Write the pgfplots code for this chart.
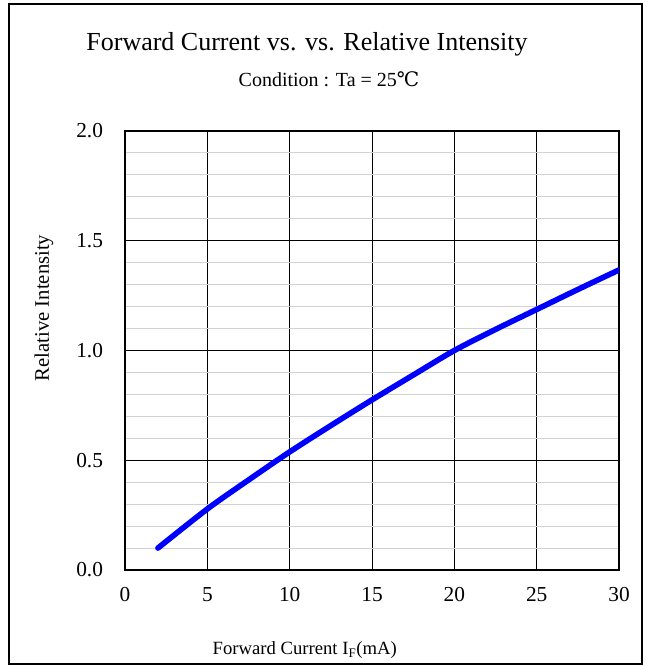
\documentclass[border=0pt]{standalone}
\usepackage{pgfplots}
\pgfplotsset{compat=1.18}
\usepackage{fontspec}
\setmainfont{Liberation Serif}
\newfontfamily\dvserif{DejaVu Serif}

\begin{document}
\begin{tikzpicture}[x=1pt,y=1pt]
\useasboundingbox (-93.75,-72) rectangle (393,427.5);
\begin{axis}[
    at={(0,0)}, anchor=south west,
    scale only axis,
    width=370.5pt, height=329.25pt,
    xmin=0, xmax=30, ymin=0, ymax=2,
    xtick={0,5,...,30},
    ytick={0,0.5,...,2},
    minor y tick num=4,
    grid=both,
    major grid style={black, line width=0.6pt},
    minor grid style={gray!35, line width=0.8pt},
    major tick length=0pt, minor tick length=0pt,
    axis line style={black, line width=1pt},
    tick label style={font=\fontsize{16}{19}\selectfont},
    /pgf/number format/assume math mode=true,
    yticklabel style={/pgf/number format/fixed, /pgf/number format/fixed zerofill,
      /pgf/number format/precision=1, xshift=-13pt},
    xticklabel style={yshift=-9.5pt},
    every axis x label/.style={at={(rel axis cs:0.364,-0.182)}, anchor=center,
      font=\fontsize{14}{17}\selectfont},
    every axis y label/.style={at={(rel axis cs:-0.164,0.597)}, rotate=90, anchor=center,
      font=\fontsize{15.5}{18}\selectfont},
    xlabel={Forward Current I\textsubscript{F}(mA)},
    ylabel={Relative Intensity},
]
% measured curve
\addplot[blue, line width=4.2pt, smooth, line cap=round] coordinates {
  (2,0.10) (5,0.278) (7.5,0.41)
  (10,0.538) (12.5,0.658) (15,0.775) (17.5,0.888)
  (20,1.0) (22.5,1.096) (25,1.187) (27.5,1.278) (30,1.367)
};
\end{axis}
% outer frame and titles
\draw[black, line width=1.3pt] (-87,-70.5) rectangle (387.75,424.5);
\node[font=\fontsize{19.5}{24}\selectfont] at (136.5,394.5) {Forward Current vs. vs. Relative Intensity};
\node[font=\fontsize{15}{18}\selectfont] at (153,368.25) {Condition : Ta = 25{\dvserif ℃}};
\end{tikzpicture}
\end{document}
